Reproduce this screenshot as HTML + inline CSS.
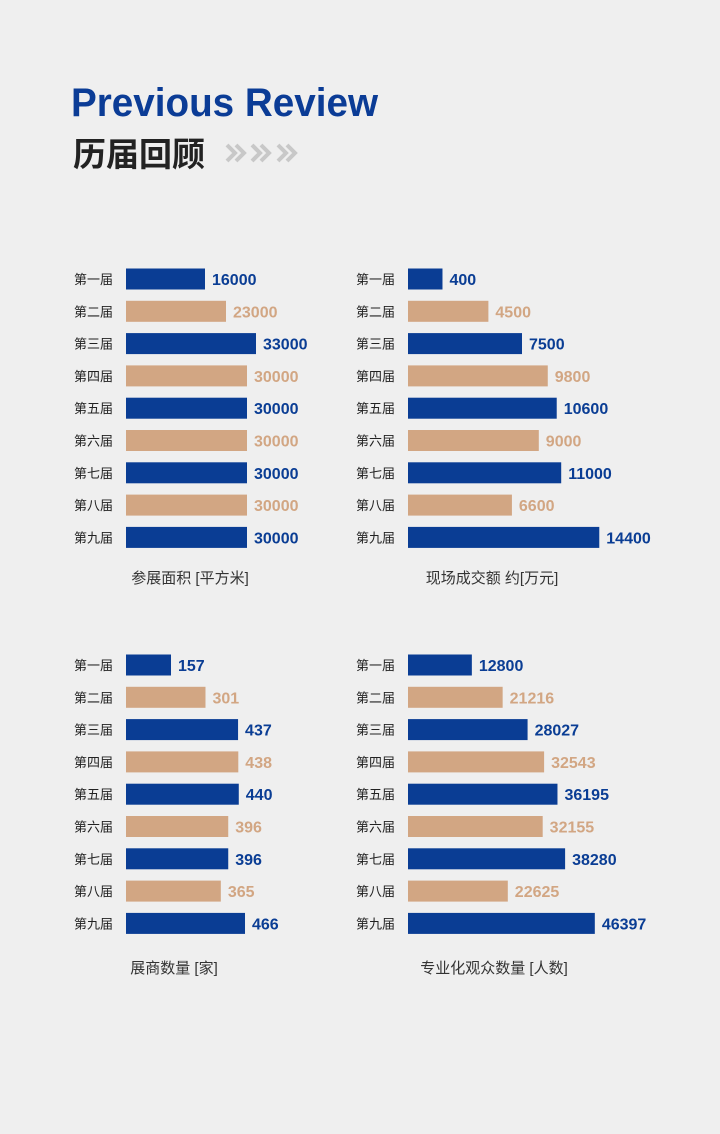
<!DOCTYPE html>
<html><head><meta charset="utf-8">
<style>
html,body{margin:0;padding:0;background:#efefef;}
svg{display:block;}
text{font-family:"Liberation Sans","Noto Sans CJK SC",sans-serif;}
</style></head>
<body>
<svg id="root" width="720" height="1134" viewBox="0 0 720 1134" xmlns="http://www.w3.org/2000/svg">
<rect width="720" height="1134" fill="#efefef"/>
<text x="71" y="116" font-size="40" font-weight="bold" fill="#0b3c96" textLength="307" lengthAdjust="spacingAndGlyphs">Previous Review</text>
<text x="73" y="166" font-size="33" font-weight="bold" fill="#222" font-family="'Noto Sans CJK SC',sans-serif">历届回顾</text>
<g fill="none" stroke="#c8c8c8" stroke-width="4">
<polyline points="227,145 235,153 227,161"/><polyline points="236,145 244,153 236,161"/>
<polyline points="252,145 260,153 252,161"/><polyline points="261,145 269,153 261,161"/>
<polyline points="278,145 286,153 278,161"/><polyline points="287,145 295,153 287,161"/>
</g>
<g id="charts"></g>
</svg>
<script>
const rowLabels = ["第一届","第二届","第三届","第四届","第五届","第六届","第七届","第八届","第九届"];
const areaValues = [16000,23000,33000,30000,30000,30000,30000,30000,30000];
const dealValues = [400,4500,7500,9800,10600,9000,11000,6600,14400];
const exhibitorValues = [157,301,437,438,440,396,396,365,466];
const visitorValues = [12800,21216,28027,32543,36195,32155,38280,22625,46397];
const chartTitles = ["参展面积 [平方米]","现场成交额 约[万元]","展商数量 [家]","专业化观众数量 [人数]"];

const NS="http://www.w3.org/2000/svg";
const BLUE="#0a3d94", TAN="#d2a683";
const charts=[
  {vals:areaValues,x0:126,y0:279,a:31,b:0.003,title:chartTitles[0],tx:190,ty:583,name:"area-chart"},
  {vals:dealValues,x0:408,y0:279,a:30,b:0.0112,title:chartTitles[1],tx:492,ty:583,name:"deal-chart"},
  {vals:exhibitorValues,x0:126,y0:665,a:7.4,b:0.2395,title:chartTitles[2],tx:174,ty:973,name:"exhibitor-chart"},
  {vals:visitorValues,x0:408,y0:665,a:17,b:0.00366,title:chartTitles[3],tx:494,ty:973,name:"visitor-chart"}
];
const root=document.getElementById("charts");
function mk(tag,attrs,txt){const e=document.createElementNS(NS,tag);for(const k in attrs)e.setAttribute(k,attrs[k]);if(txt!==undefined)e.textContent=txt;return e;}
charts.forEach(c=>{
  const g=mk("g",{});
  
  
  const step=32.3;
  const xScale=v=>c.a+c.b*v;
  c.vals.forEach((v,i)=>{
    const cy=c.y0+i*step;
    const col=i%2===0?BLUE:TAN;
    const lab=mk("text",{x:c.x0-52,y:cy+5,"font-size":13,fill:"#222","font-family":"'Noto Sans CJK SC',sans-serif"},rowLabels[i]);
    
    
    g.appendChild(lab);
    const w=xScale(v);
    const r=mk("rect",{x:c.x0,y:cy-10.5,width:w,height:21,fill:col});
    
    
    g.appendChild(r);
    const t=mk("text",{x:c.x0+w+7,y:cy+6,"font-size":16,"font-weight":"bold",fill:col},String(v));
    
    
    g.appendChild(t);
  });
  const tt=mk("text",{x:c.tx,y:c.ty,"font-size":15,fill:"#333","text-anchor":"middle","font-family":"'Noto Sans CJK SC',sans-serif"},c.title);
  
  
  g.appendChild(tt);
  root.appendChild(g);
});
</script>
</body></html>
